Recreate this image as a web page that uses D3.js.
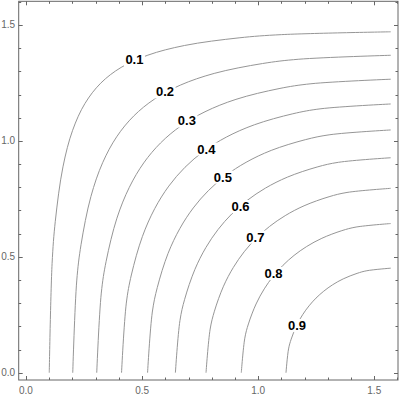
<!DOCTYPE html>
<html>
<head>
<meta charset="utf-8">
<script src="https://cdn.jsdelivr.net/npm/d3@7"></script>
<style>
  html, body { margin: 0; padding: 0; background: #fff; }
  svg { display: block; }
</style>
</head>
<body>
<svg id="chart" width="399" height="394"></svg>
<script>
// ---- data ----
const levels = [0.1, 0.2, 0.3, 0.4, 0.5, 0.6, 0.7, 0.8, 0.9];
const levelLabels = ["0.1", "0.2", "0.3", "0.4", "0.5", "0.6", "0.7", "0.8", "0.9"];

const contourX01 = [0.1002, 0.1124, 0.1262, 0.1592, 0.2009, 0.2539, 0.3218, 0.4095, 0.5250, 0.6828, 0.9179, 1.1001, 1.5708];
const contourY01 = [0, 0.4707, 0.6529, 0.8880, 1.0458, 1.1613, 1.2490, 1.3169, 1.3699, 1.4116, 1.4446, 1.4584, 1.4706];
const contourX02 = [0.2014, 0.2185, 0.2371, 0.2796, 0.3301, 0.3906, 0.4637, 0.5531, 0.6650, 0.8107, 1.0185, 1.1750, 1.5708];
const contourY02 = [0, 0.3958, 0.5523, 0.7601, 0.9058, 1.0177, 1.1071, 1.1802, 1.2407, 1.2912, 1.3337, 1.3523, 1.3694];
const contourX03 = [0.3047, 0.3243, 0.3452, 0.3916, 0.4451, 0.5070, 0.5796, 0.6659, 0.7710, 0.9043, 1.0899, 1.2273, 1.5708];
const contourY03 = [0, 0.3435, 0.4809, 0.6665, 0.7998, 0.9049, 0.9912, 1.0638, 1.1257, 1.1792, 1.2256, 1.2465, 1.2661];
const contourX04 = [0.4115, 0.4321, 0.4538, 0.5012, 0.5545, 0.6151, 0.6847, 0.7658, 0.8628, 0.9837, 1.1492, 1.2704, 1.5708];
const contourY04 = [0, 0.3004, 0.4216, 0.5871, 0.7080, 0.8050, 0.8861, 0.9557, 1.0163, 1.0696, 1.1170, 1.1387, 1.1593];
const contourX05 = [0.5236, 0.5441, 0.5656, 0.6118, 0.6631, 0.7205, 0.7854, 0.8600, 0.9480, 1.0563, 1.2028, 1.3090, 1.5708];
const contourY05 = [0, 0.2618, 0.3680, 0.5145, 0.6228, 0.7108, 0.7854, 0.8503, 0.9077, 0.9590, 1.0052, 1.0267, 1.0472];
const contourX06 = [0.6435, 0.6631, 0.6834, 0.7269, 0.7745, 0.8272, 0.8861, 0.9531, 1.0312, 1.1264, 1.2539, 1.3457, 1.5708];
const contourY06 = [0, 0.2251, 0.3169, 0.4444, 0.5396, 0.6177, 0.6847, 0.7436, 0.7963, 0.8439, 0.8874, 0.9077, 0.9273];
const contourX07 = [0.7754, 0.7932, 0.8116, 0.8507, 0.8932, 0.9396, 0.9912, 1.0492, 1.1164, 1.1976, 1.3053, 1.3825, 1.5708];
const contourY07 = [0, 0.1883, 0.2655, 0.3732, 0.4544, 0.5216, 0.5796, 0.6312, 0.6776, 0.7201, 0.7592, 0.7776, 0.7954];
const contourX08 = [0.9273, 0.9424, 0.9580, 0.9909, 1.0263, 1.0648, 1.1072, 1.1545, 1.2090, 1.2743, 1.3603, 1.4217, 1.5708];
const contourY08 = [0, 0.1491, 0.2105, 0.2965, 0.3618, 0.4163, 0.4636, 0.5060, 0.5445, 0.5799, 0.6128, 0.6284, 0.6435];
const contourX09 = [1.1198, 1.1308, 1.1422, 1.1660, 1.1914, 1.2190, 1.2490, 1.2825, 1.3207, 1.3662, 1.4259, 1.4682, 1.5708];
const contourY09 = [0, 0.1026, 0.1449, 0.2046, 0.2501, 0.2883, 0.3218, 0.3518, 0.3794, 0.4048, 0.4286, 0.4400, 0.4510];

const labelX = [0.467, 0.599, 0.693, 0.777, 0.848, 0.924, 0.988, 1.066, 1.167];
const labelY = [1.351, 1.211, 1.086, 0.965, 0.844, 0.717, 0.585, 0.428, 0.204];

const majorTicks = [0, 0.5, 1.0, 1.5];
const tickLabels = ["0.0", "0.5", "1.0", "1.5"];
const minorTicks = [0.1, 0.2, 0.3, 0.4, 0.6, 0.7, 0.8, 0.9, 1.1, 1.2, 1.3, 1.4, 1.6];

const xDomain = [-0.0314, 1.6022];
const yDomain = [-0.0314, 1.6022];

// ---- drawing ----
const contourXs = [contourX01, contourX02, contourX03, contourX04, contourX05, contourX06, contourX07, contourX08, contourX09];
const contourYs = [contourY01, contourY02, contourY03, contourY04, contourY05, contourY06, contourY07, contourY08, contourY09];

const svg = d3.select("#chart");
const pLeft = 18.7, pRight = 398, pTop = 1.3, pBottom = 380;
const x = d3.scaleLinear().domain(xDomain).range([pLeft, pRight]);
const y = d3.scaleLinear().domain(yDomain).range([pBottom, pTop]);

svg.append("rect").attr("width", 399).attr("height", 394).attr("fill", "#fff");

svg.append("defs").append("clipPath").attr("id", "clip")
  .append("rect").attr("x", pLeft).attr("y", pTop)
  .attr("width", pRight - pLeft).attr("height", pBottom - pTop);

const plot = svg.append("g").attr("clip-path", "url(#clip)");

const line = d3.line()
  .x(d => x(d[0]))
  .y(d => y(d[1]))
  .curve(d3.curveCatmullRom.alpha(0.5));

levels.forEach((lv, i) => {
  const pts = contourXs[i].map((vx, j) => [vx, contourYs[i][j]]);
  plot.append("path")
    .attr("d", line(pts))
    .attr("fill", "none")
    .attr("stroke", "#969696")
    .attr("stroke-width", 1);
});

// contour labels with white background
const labG = plot.append("g");
levels.forEach((lv, i) => {
  const g = labG.append("g");
  const t = g.append("text")
    .attr("x", x(labelX[i]))
    .attr("y", y(labelY[i]))
    .attr("text-anchor", "middle")
    .attr("dominant-baseline", "central")
    .attr("font-family", "Liberation Sans, Arial, sans-serif")
    .attr("font-weight", "bold")
    .attr("font-size", 13)
    .attr("fill", "#000")
    .text(levelLabels[i]);
  const bb = t.node().getBBox();
  g.insert("rect", "text")
    .attr("x", bb.x - 1.5).attr("y", bb.y + 1)
    .attr("width", bb.width + 3).attr("height", bb.height - 2)
    .attr("fill", "#fff");
});

// frame
const frameColor = "#666";
svg.append("rect")
  .attr("x", pLeft).attr("y", pTop)
  .attr("width", pRight - pLeft).attr("height", pBottom - pTop)
  .attr("fill", "none").attr("stroke", frameColor).attr("stroke-width", 1);

// ticks (inward, all four sides)
const tg = svg.append("g").attr("stroke", frameColor).attr("stroke-width", 1);
const majLen = 4, minLen = 2.5;
function drawTicks(vals, len) {
  vals.forEach(v => {
    const px = Math.round(x(v)) + 0.5, py = Math.round(y(v)) + 0.5;
    if (px > pLeft && px < pRight) {
      tg.append("line").attr("x1", px).attr("x2", px).attr("y1", pBottom).attr("y2", pBottom - len);
      tg.append("line").attr("x1", px).attr("x2", px).attr("y1", pTop).attr("y2", pTop + len);
    }
    if (py > pTop && py < pBottom) {
      tg.append("line").attr("y1", py).attr("y2", py).attr("x1", pLeft).attr("x2", pLeft + len);
      tg.append("line").attr("y1", py).attr("y2", py).attr("x1", pRight).attr("x2", pRight - len);
    }
  });
}
drawTicks(majorTicks, majLen);
drawTicks(minorTicks, minLen);

// tick labels
const lblFont = "Liberation Sans, Arial, sans-serif";
majorTicks.forEach((v, i) => {
  svg.append("text")
    .attr("x", x(v)).attr("y", pBottom + 13.5)
    .attr("text-anchor", "middle")
    .attr("font-family", lblFont).attr("font-size", 10).attr("fill", "#666")
    .text(tickLabels[i]);
  svg.append("text")
    .attr("x", pLeft - 3.5).attr("y", y(v))
    .attr("text-anchor", "end").attr("dominant-baseline", "central")
    .attr("font-family", lblFont).attr("font-size", 10).attr("fill", "#666")
    .text(tickLabels[i]);
});
</script>
</body>
</html>
